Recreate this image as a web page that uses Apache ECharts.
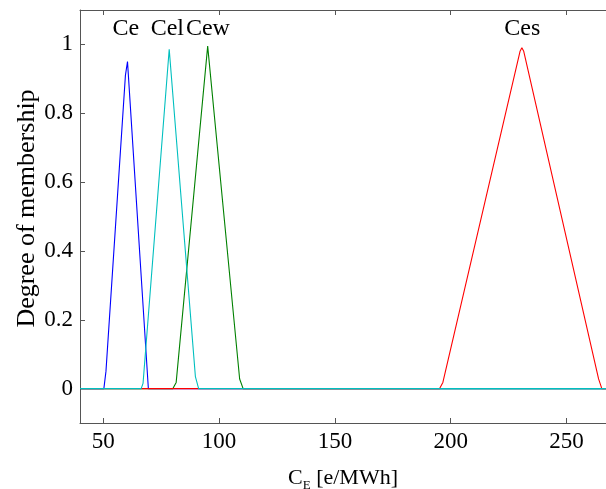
<!DOCTYPE html>
<html>
<head>
<meta charset="utf-8">
<script src="https://cdn.jsdelivr.net/npm/echarts@6/dist/echarts.min.js"></script>
<style>
html,body{margin:0;padding:0;background:#fff;}
#chart{width:606px;height:489px;}
</style>
</head>
<body>
<div id="chart"></div>
<script>
// ---- data ----
const ceX  = [40, 50.3, 51.2, 59.6, 60.5, 69.5, 267];
const ceY  = [0, 0, 0.05, 0.91, 0.95, 0, 0];
const celX = [40, 66.4, 67.2, 78.5, 89.8, 91.2, 267];
const celY = [0, 0, 0.015, 0.986, 0.035, 0, 0];
const cewX = [40, 80.1, 81.5, 95.1, 108.9, 110.4, 267];
const cewY = [0, 0, 0.018, 0.995, 0.028, 0, 0];
const cesX = [40, 195.2, 196.6, 229.9, 230.7, 231.5, 263.8, 265.2, 267];
const cesY = [0, 0, 0.018, 0.98, 0.99, 0.98, 0.028, 0, 0];

const labelNames = ['Ce', 'Cel', 'Cew', 'Ces'];
const labelX = [59.8, 77.7, 95.2, 230.9];
const labelY = [1.045, 1.045, 1.045, 1.045];

const xTicks = [50, 100, 150, 200, 250];
const yTicks = [0, 0.2, 0.4, 0.6, 0.8, 1];
const xMin = 40, xMax = 267, yMin = -0.1, yMax = 1.1;

const pairs = (xs, ys) => xs.map((x, i) => [x, ys[i]]);

const FONT = 'Liberation Serif';
const axisColor = '#555';

const chart = echarts.init(document.getElementById('chart'), null, {renderer: 'canvas'});

function lineSeries(name, xs, ys, color) {
  return {
    name, type: 'line', data: pairs(xs, ys), symbol: 'none',
    lineStyle: {color, width: 1.1}, itemStyle: {color},
    animation: false, silent: true
  };
}

const option = {
  backgroundColor: '#fff',
  animation: false,
  grid: {left: 80, right: 0, top: 10, bottom: 66, containLabel: false, outerBoundsMode: 'none'},
  xAxis: [{
    type: 'value', min: xMin, max: xMax,
    splitLine: {show: false},
    axisLine: {show: true, onZero: false, lineStyle: {color: axisColor, width: 1}},
    axisTick: {show: true, inside: true, length: 5, customValues: xTicks, lineStyle: {color: axisColor}},
    axisLabel: {customValues: xTicks, margin: 7, color: '#000', fontFamily: FONT, fontSize: 23},
    name: '{a|C}{b|E}{a| [e/MWh]}',
    nameLocation: 'middle', nameGap: 42,
    nameTextStyle: {
      rich: {
        a: {fontFamily: FONT, fontSize: 22, color: '#000', lineHeight: 26},
        b: {fontFamily: FONT, fontSize: 13, color: '#000', lineHeight: 13, padding: [14, 0, 0, 0], verticalAlign: 'top'}
      }
    }
  }, {
    type: 'value', position: 'top', min: xMin, max: xMax,
    splitLine: {show: false},
    axisLine: {show: true, onZero: false, lineStyle: {color: axisColor, width: 1}},
    axisTick: {show: true, inside: true, length: 5, customValues: xTicks, lineStyle: {color: axisColor}},
    axisLabel: {show: false}
  }],
  yAxis: [{
    type: 'value', min: yMin, max: yMax,
    splitLine: {show: false},
    axisLine: {show: true, onZero: false, lineStyle: {color: axisColor, width: 1}},
    axisTick: {show: true, inside: true, length: 5, customValues: yTicks, lineStyle: {color: axisColor}},
    axisLabel: {customValues: yTicks, margin: 7, color: '#000', fontFamily: FONT, fontSize: 23,
      formatter: v => String(+(+v).toFixed(1))},
    name: 'Degree of membership',
    nameLocation: 'middle', nameGap: 40, nameMoveOverlap: false,
    nameTextStyle: {fontFamily: FONT, fontSize: 26, color: '#000', padding: [0, 0, 0, 16]}
  }],
  series: [
    lineSeries('Ce', ceX, ceY, '#0000ff'),
    lineSeries('Cew', cewX, cewY, '#008000'),
    lineSeries('Ces', cesX, cesY, '#ff0000'),
    lineSeries('Cel', celX, celY, '#00bfbf'),
    {
      type: 'scatter', symbolSize: 0, silent: true,
      itemStyle: {opacity: 1},
      data: labelNames.map((n, i) => ({name: n, value: [labelX[i], labelY[i]]})),
      label: {show: true, position: 'inside', formatter: p => p.name,
        fontFamily: FONT, fontSize: 24, color: '#000', opacity: 1, textBorderWidth: 0}
    }
  ]
};
chart.setOption(option);
</script>
</body>
</html>
